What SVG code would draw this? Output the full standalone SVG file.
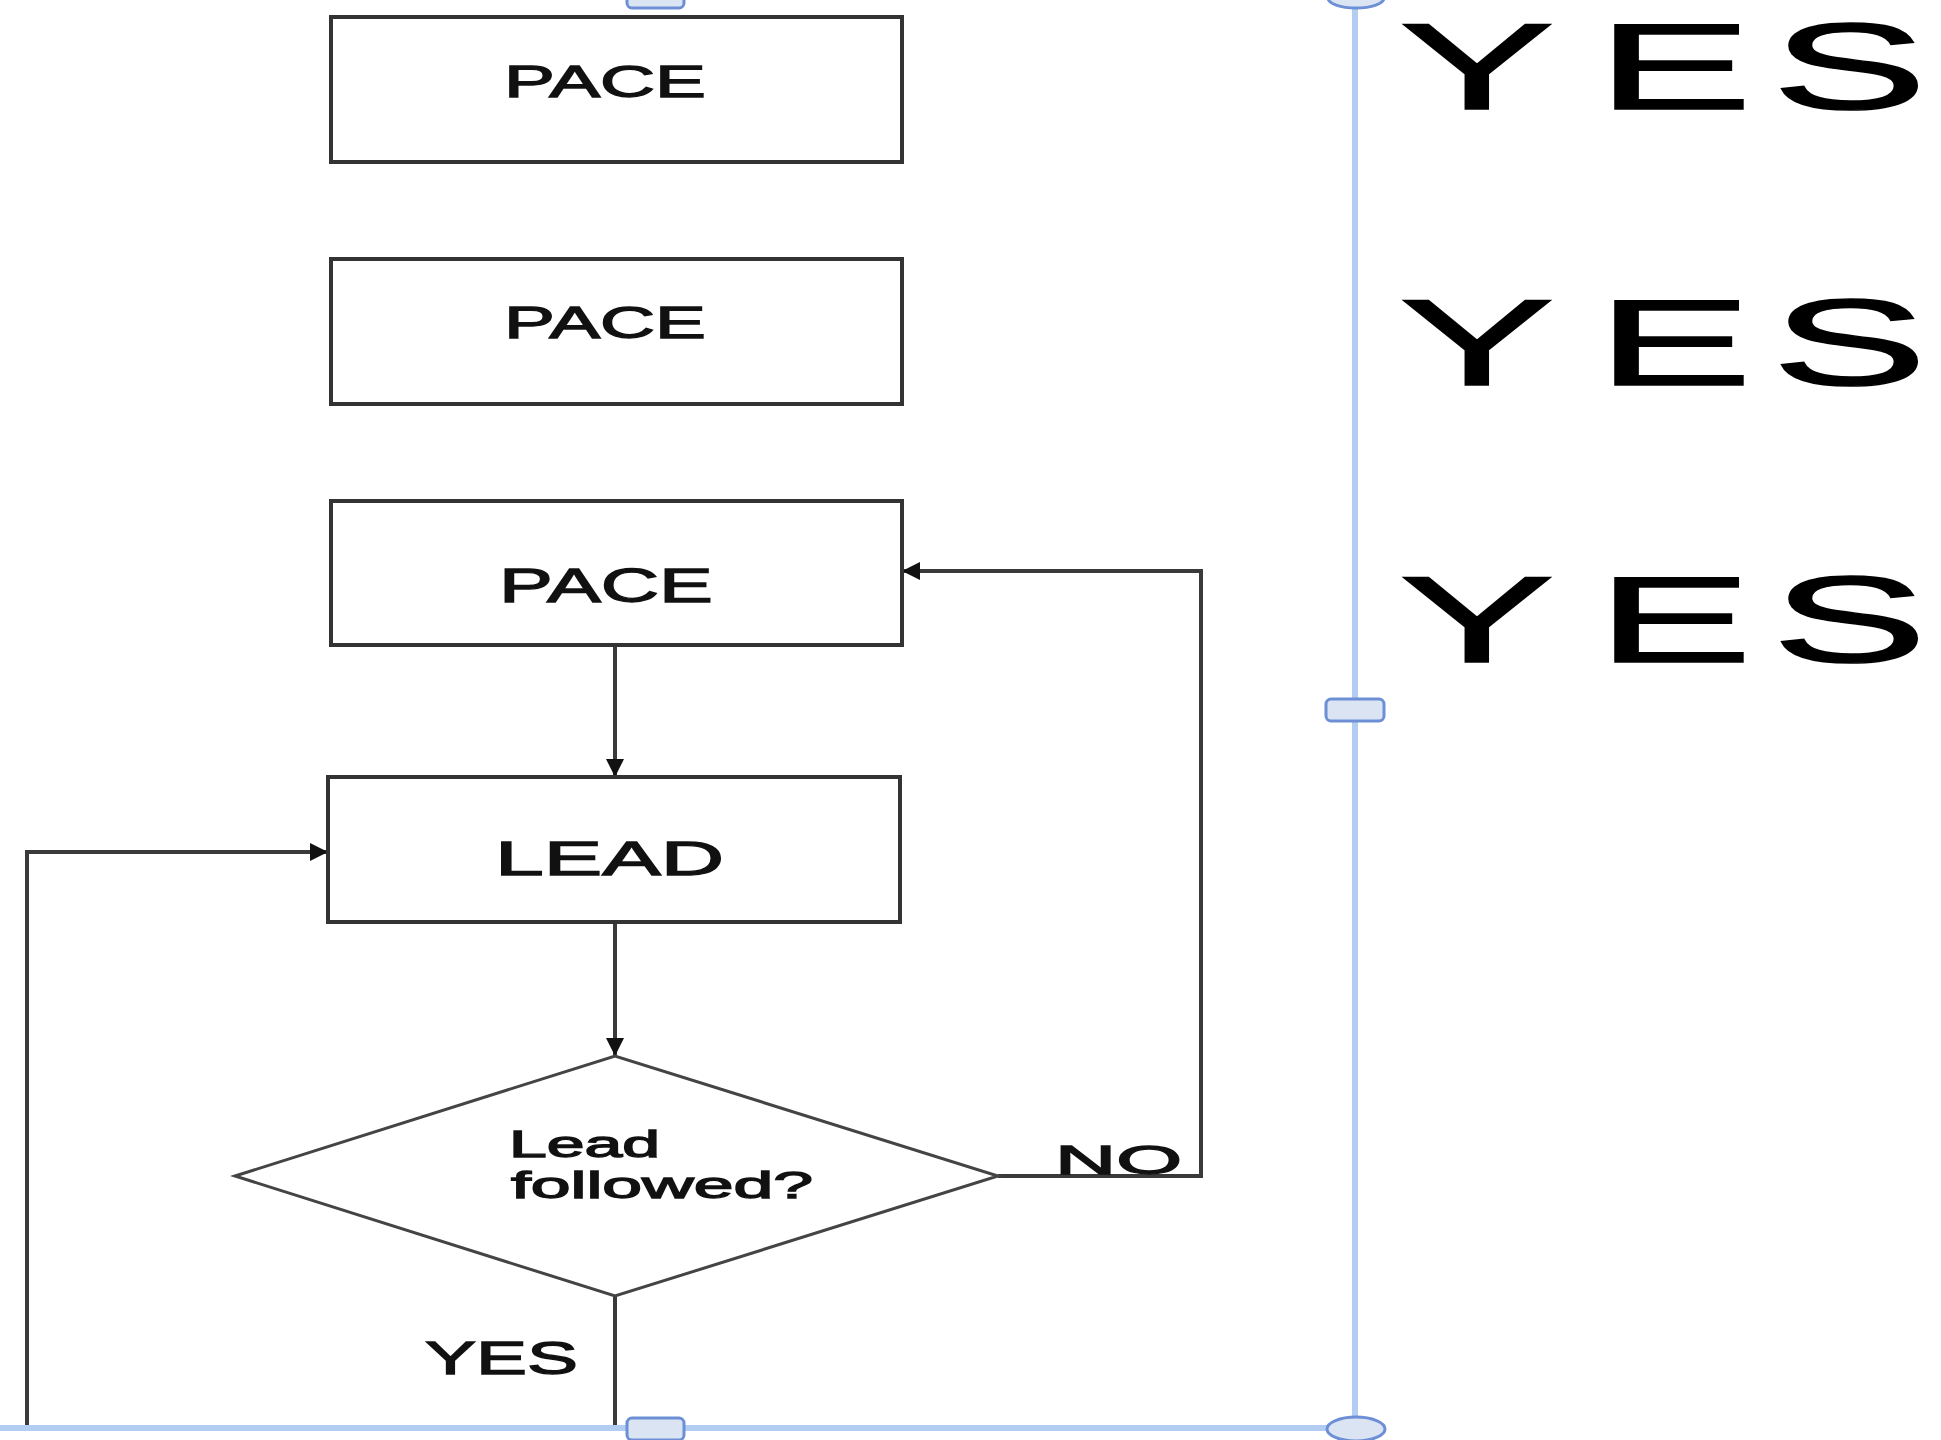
<svg xmlns="http://www.w3.org/2000/svg" width="1941" height="1440" viewBox="0 0 1941 1440">
<style>
.box{fill:#fff;stroke:#333;stroke-width:4}
.dia{fill:#fff;stroke:#444;stroke-width:3}
.conn{fill:none;stroke:#3a3a3a;stroke-width:4}
.lbl{font-family:"Liberation Sans","DejaVu Sans",sans-serif;fill:#111;stroke:#111;stroke-width:1.3}
.big{font-family:"Liberation Sans",Arial,sans-serif;fill:#000;stroke:#000;stroke-width:1.5;font-size:123px}
.sel{fill:none;stroke:#b3cdf2;stroke-width:6}
.handle{fill:#dbe4f3;stroke:#6d8fd6;stroke-width:3}
</style>
<defs>
<marker id="arrv" markerWidth="18" markerHeight="18" refX="18" refY="9" orient="auto" markerUnits="userSpaceOnUse" viewBox="0 0 18 18">
<path d="M0,0 L18,9 L0,18 Z" fill="#111"/>
</marker>
</defs>
<rect width="1941" height="1440" fill="#fff"/>

<g id="connectors">
<path class="conn" d="M615,645 L615,777" marker-end="url(#arrv)"/>
<path class="conn" d="M615,922 L615,1056" marker-end="url(#arrv)"/>
<path class="conn" d="M998,1176 L1201,1176 L1201,571 L902,571" marker-end="url(#arrv)"/>
<path class="conn" d="M615,1296 L615,1428 L27,1428 L27,852 L328,852" marker-end="url(#arrv)"/>
<text class="lbl" x="1055" y="1174" font-size="40" textLength="127" lengthAdjust="spacingAndGlyphs">NO</text>
<text class="lbl" x="425" y="1374" font-size="46" textLength="153" lengthAdjust="spacingAndGlyphs">YES</text>
</g>

<g id="pace1">
<rect class="box" x="331" y="17" width="571" height="145"/>
<text class="lbl" x="504" y="97" font-size="44" textLength="202" lengthAdjust="spacingAndGlyphs">PACE</text>
</g>
<g id="pace2">
<rect class="box" x="331" y="259" width="571" height="145"/>
<text class="lbl" x="504" y="338" font-size="44" textLength="202" lengthAdjust="spacingAndGlyphs">PACE</text>
</g>
<g id="pace3">
<rect class="box" x="331" y="501" width="571" height="144"/>
<text class="lbl" x="499" y="602" font-size="49" textLength="214" lengthAdjust="spacingAndGlyphs">PACE</text>
</g>
<g id="lead">
<rect class="box" x="328" y="777" width="572" height="145"/>
<text class="lbl" x="495" y="875" font-size="48" textLength="229" lengthAdjust="spacingAndGlyphs">LEAD</text>
</g>
<g id="decision">
<polygon class="dia" points="235,1176 615,1056 998,1176 615,1296"/>
<text class="lbl" x="509" y="1157" font-size="37" textLength="151" lengthAdjust="spacingAndGlyphs">Lead</text>
<text class="lbl" x="511" y="1198" font-size="37" textLength="302" lengthAdjust="spacingAndGlyphs">followed?</text>
</g>

<g id="yes-labels">
<text class="big" transform="translate(1399,109) scale(1.9,1)"><tspan x="0">Y</tspan><tspan x="104">E</tspan><tspan x="196">S</tspan></text>
<text class="big" transform="translate(1399,385) scale(1.9,1)"><tspan x="0">Y</tspan><tspan x="104">E</tspan><tspan x="196">S</tspan></text>
<text class="big" transform="translate(1399,662) scale(1.9,1)"><tspan x="0">Y</tspan><tspan x="104">E</tspan><tspan x="196">S</tspan></text>
</g>

<g id="selection">
<path class="sel" d="M0,1428 L1355,1428 M1355,0 L1355,1428"/>
<rect class="handle" x="627" y="-12" width="57" height="20" rx="5"/>
<rect class="handle" x="627" y="1418" width="57" height="22" rx="5"/>
<rect class="handle" x="1326" y="699" width="58" height="22" rx="5"/>
<ellipse class="handle" cx="1356" cy="-2" rx="28" ry="10"/>
<ellipse class="handle" cx="1356" cy="1429" rx="29" ry="12"/>
</g>
</svg>
